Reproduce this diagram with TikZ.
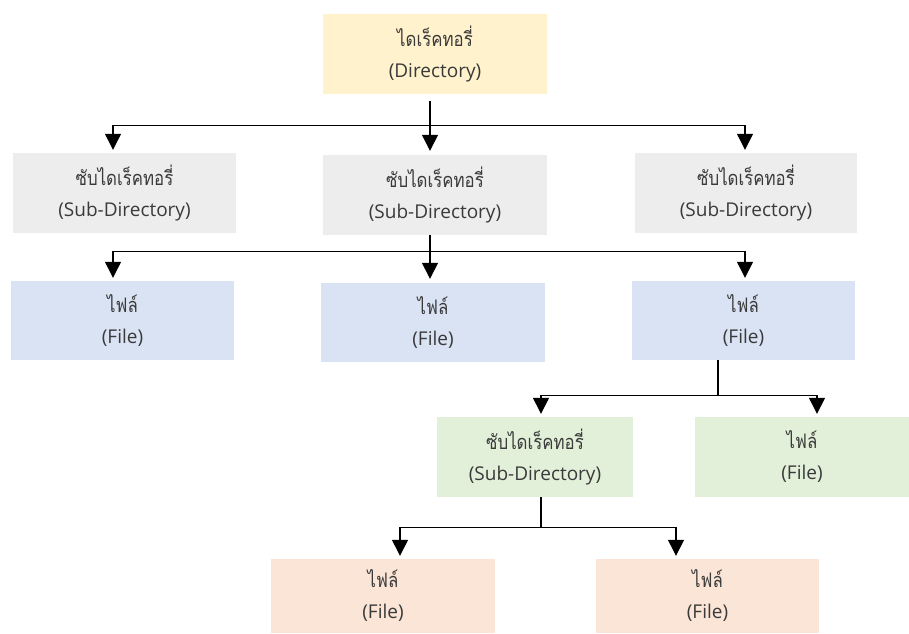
\documentclass[tikz,border=0pt]{standalone}
\usepackage{fontspec}
\setmainfont{Open Sans}
\newfontfamily\thaifont[Script=Thai,FakeStretch=0.84]{Loma}
\usetikzlibrary{arrows.meta}
\definecolor{cyellow}{HTML}{FFF2CC}
\definecolor{cgrey}{HTML}{EDEDED}
\definecolor{cblue}{HTML}{DAE3F3}
\definecolor{cgreen}{HTML}{E2F0D9}
\definecolor{corange}{HTML}{FBE5D6}
\definecolor{ctext}{HTML}{3A3A3A}
\tikzset{
  box/.style={rectangle, inner sep=0pt, minimum width=224pt, minimum height=80pt,
    align=center, text=ctext, font=\fontsize{19}{31}\selectfont},
  conn/.style={line width=1.3pt, draw=black},
  arr/.style={conn, -{Triangle[width=16pt,length=16pt]}},
}
\newcommand{\twoline}[2]{{\thaifont\fontsize{20}{31}\selectfont #1}\\#2}
\begin{document}
\begin{tikzpicture}[x=1pt,y=-1pt]
\useasboundingbox (0,0) rectangle (909,633);
% boxes
\node[box, fill=cyellow] (dir) at (435,54) {\twoline{ไดเร็คทอรี่}{(Directory)}};
\node[box, fill=cgrey, minimum width=223pt] (s1) at (124.5,193) {\twoline{ซับไดเร็คทอรี่}{(Sub-Directory)}};
\node[box, fill=cgrey] (s2) at (435,195) {\twoline{ซับไดเร็คทอรี่}{(Sub-Directory)}};
\node[box, fill=cgrey, minimum width=222pt] (s3) at (746,193) {\twoline{ซับไดเร็คทอรี่}{(Sub-Directory)}};
\node[box, fill=cblue, minimum width=223pt, minimum height=79pt] (f1) at (122.5,320.5) {\twoline{ไฟล์}{(File)}};
\node[box, fill=cblue, minimum height=79pt] (f2) at (433,322.5) {\twoline{ไฟล์}{(File)}};
\node[box, fill=cblue, minimum width=223pt, minimum height=79pt] (f3) at (743.5,320.5) {\twoline{ไฟล์}{(File)}};
\node[box, fill=cgreen, minimum width=196pt] (g1) at (535,457) {\twoline{ซับไดเร็คทอรี่}{(Sub-Directory)}};
\node[box, fill=cgreen, minimum width=214pt] (g2) at (802,457) {\twoline{ไฟล์}{(File)}};
\node[box, fill=corange, minimum height=74pt] (o1) at (383,596) {\twoline{ไฟล์}{(File)}};
\node[box, fill=corange, minimum width=223pt, minimum height=74pt] (o2) at (707.5,596) {\twoline{ไฟล์}{(File)}};
% bus 1
\draw[conn] ([xshift=-5pt,yshift=-7pt]dir.south) -- ([xshift=-5pt,yshift=-31pt]dir.south) coordinate (b1);
\draw[arr] (b1) -| ([xshift=-11.5pt,yshift=3pt]s1.north);
\draw[arr] (b1) -- ([xshift=-5pt,yshift=4pt]s2.north);
\draw[arr] (b1) -| ([xshift=-1pt,yshift=3pt]s3.north);
% bus 2
\draw[conn] ([xshift=-5pt]s2.south) -- ([xshift=-5pt,yshift=-16pt]s2.south) coordinate (b2);
\draw[arr] (b2) -| ([xshift=-9.5pt,yshift=3pt]f1.north);
\draw[arr] (b2) -- ([xshift=-3pt,yshift=4pt]f2.north);
\draw[arr] (b2) -| ([xshift=1.5pt,yshift=3pt]f3.north);
% bus 3
\draw[conn] ([xshift=-25.5pt]f3.south) -- ([xshift=-25.5pt,yshift=-35pt]f3.south) coordinate (b3);
\draw[arr] (b3) -| ([xshift=6pt,yshift=3pt]g1.north);
\draw[arr] (b3) -| ([xshift=15pt,yshift=3pt]g2.north);
% bus 4
\draw[conn] ([xshift=6pt]g1.south) -- ([xshift=6pt,yshift=-30pt]g1.south) coordinate (b4);
\draw[arr] (b4) -| ([xshift=17pt,yshift=3pt]o1.north);
\draw[arr] (b4) -| ([xshift=-31.5pt,yshift=3pt]o2.north);
\end{tikzpicture}
\end{document}
